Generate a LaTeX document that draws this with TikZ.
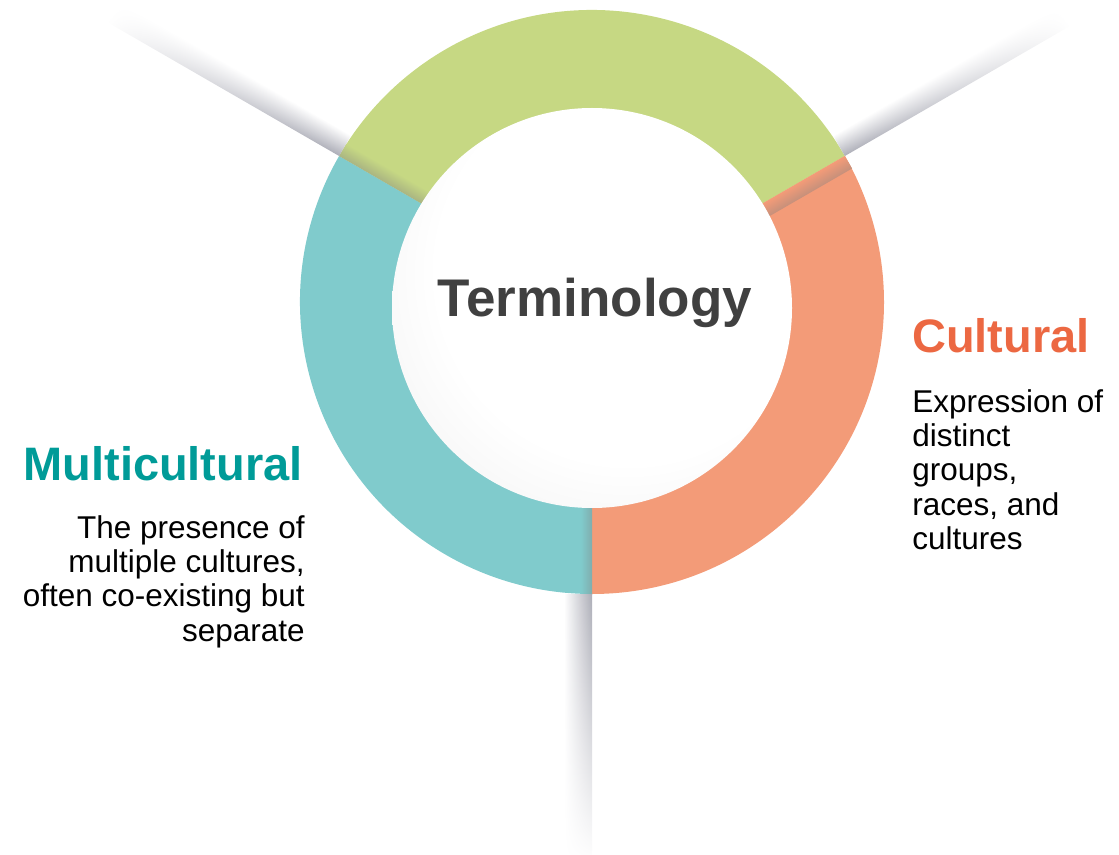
\documentclass[tikz,border=0pt]{standalone}
\usepackage{fontspec}
\setmainfont{Liberation Sans}
\usetikzlibrary{fadings}

\definecolor{ringgreen}{RGB}{198,216,131}
\definecolor{ringteal}{RGB}{128,203,204}
\definecolor{ringorange}{RGB}{243,155,120}
\definecolor{multiteal}{RGB}{0,155,152}
\definecolor{cultorange}{RGB}{236,104,66}
\definecolor{hubgray}{RGB}{64,64,64}
\definecolor{raygray}{RGB}{172,173,183}

% rays fade out away from the ring
\tikzfading[name=rayfade, left color=transparent!0, middle color=transparent!40, right color=transparent!100]
% soft grey rim on the white disc
\pgfdeclareradialshading{discglow}{\pgfpoint{8bp}{8bp}}{color(0bp)=(white); color(24bp)=(white); color(56bp)=(black!13)}

\tikzset{
  headline/.style={font=\bfseries\fontsize{33.4}{36}\selectfont, inner sep=0pt},
  blurb/.style={font=\fontsize{22.4}{24.5}\selectfont, inner sep=0pt},
}

\begin{document}
\begin{tikzpicture}
\useasboundingbox (0,0) rectangle (27.975,21.35);
\coordinate (O) at (14.8,13.8);

% the three ring sectors
\fill[ringgreen] (O) -- ++(30:7.3) arc (30:150:7.3) -- cycle;
\fill[ringteal] (O) -- ++(150:7.3) arc (150:270:7.3) -- cycle;
\fill[ringorange] (O) -- ++(270:7.3) arc (270:390:7.3) -- cycle;

% shadow across each joint, then the ray going out
\begin{scope}[transform canvas={shift={(O)}, rotate=150}]
  \shade[top color=ringgreen!60!gray, bottom color=ringgreen] (4.8,-0.36) rectangle (7.3,0);
  \shade[top color=raygray, bottom color=white, path fading=rayfade] (7.3,-0.6) rectangle (14,0);
\end{scope}
\begin{scope}[transform canvas={shift={(O)}, rotate=30}]
  \shade[top color=ringorange, bottom color=ringorange!60!gray] (4.8,-0.36) rectangle (7.3,0);
  \shade[top color=white, bottom color=raygray, path fading=rayfade] (7.3,0) rectangle (13.8,0.6);
\end{scope}
\begin{scope}[transform canvas={shift={(O)}, rotate=270}]
  \shade[top color=ringteal!60!gray, bottom color=ringteal] (4.8,-0.28) rectangle (7.3,0);
  \shade[top color=raygray, bottom color=white, path fading=rayfade] (7.3,-0.7) rectangle (14,0);
\end{scope}

% white disc in the middle
\shade[shading=discglow] (14.8,13.65) circle (5.0);

\node[headline, font=\bfseries\fontsize{37.7}{40}\selectfont, text=hubgray, anchor=base] (hub) at (14.875,13.425) {Terminology};

\node[headline, text=multiteal, anchor=base east] (multi) at (7.575,9.35) {Multicultural};
\node[blurb, align=right, anchor=north east] (multitext) at (7.625,8.475)
  {The presence of\\multiple cultures,\\often co-existing but\\separate};

\node[headline, text=cultorange, anchor=base west] (cult) at (22.8,12.525) {Cultural};
\node[blurb, align=left, anchor=north west] (culttext) at (22.8,11.625)
  {Expression of\\distinct\\groups,\\races, and\\cultures};
\end{tikzpicture}
\end{document}
